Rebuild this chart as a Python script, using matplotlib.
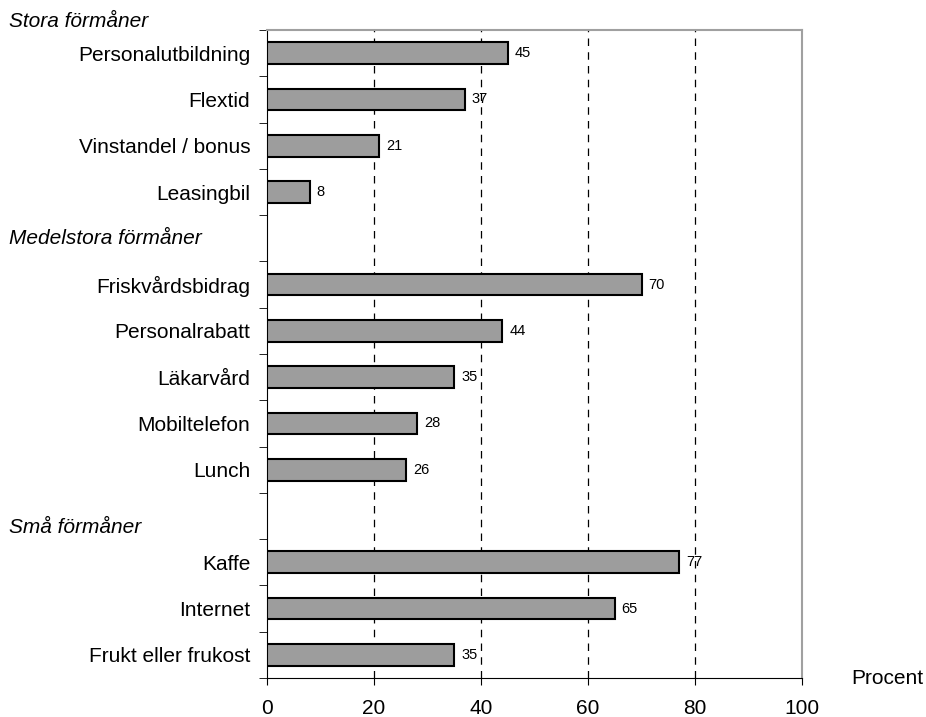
import numpy as np
import matplotlib
matplotlib.use("Agg")
import matplotlib.pyplot as plt
import matplotlib.transforms as mtransforms

plt.rcParams['font.family'] = ['Liberation Sans', 'DejaVu Sans']

# rader uppifrån, tom sträng = tom rad mellan grupperna
labels = ["Personalutbildning", "Flextid", "Vinstandel / bonus", "Leasingbil", "",
          "Friskvårdsbidrag", "Personalrabatt", "Läkarvård", "Mobiltelefon", "Lunch", "",
          "Kaffe", "Internet", "Frukt eller frukost"]
values = [45, 37, 21, 8, None,
          70, 44, 35, 28, 26, None,
          77, 65, 35]
groups = ["Stora förmåner", "Medelstora förmåner", "Små förmåner"]
group_rows = [-0.68, 4.0, 10.25]
xticks = [0, 20, 40, 60, 80, 100]

fig = plt.figure(figsize=(9.26, 7.17), dpi=100)
ax = fig.add_axes([267/926, 39/717, 535/926, 648/717])

rows = np.arange(len(labels))
for i, v in zip(rows, values):
    if v is None:
        continue
    ax.barh(i, v, height=0.47, color='#9d9d9d', edgecolor='black', linewidth=1.5, zorder=3)
    ax.text(v + 1.3, i, str(v), va='center', ha='left', fontsize=10.5, zorder=4)

ax.set_xlim(0, 100)
ax.set_ylim(len(labels) - 0.5, -0.5)
ax.set_xticks(xticks)
ax.set_xticklabels([str(t) for t in xticks], fontsize=15)
ax.tick_params(axis='x', direction='out', length=5, pad=10, color='black')

ax.set_yticks(rows)
ax.set_yticklabels(labels, fontsize=15)
ax.tick_params(axis='y', which='major', length=0, pad=12)
ax.set_yticks(np.arange(len(labels) + 1) - 0.5, minor=True)
ax.tick_params(axis='y', which='minor', direction='out', length=6, color='black')

for g in [20, 40, 60, 80]:
    ax.axvline(g, color='black', linestyle=(0, (6, 5)), linewidth=0.9, zorder=1)

ax.spines['left'].set_color('black')
ax.spines['bottom'].set_color('black')
ax.spines['top'].set_color('#a0a0a0')
ax.spines['right'].set_color('#a0a0a0')
ax.spines['top'].set_linewidth(1.5)
ax.spines['right'].set_linewidth(1.5)

trans = mtransforms.blended_transform_factory(fig.transFigure, ax.transData)
for name, r in zip(groups, group_rows):
    ax.text(9/926, r, name, transform=trans, fontsize=15, style='italic',
            ha='left', va='center', clip_on=False)

fig.text(887/926, 1 - 679/717, "Procent", fontsize=15, ha='center', va='center')

fig.savefig("out.png", dpi=100)
